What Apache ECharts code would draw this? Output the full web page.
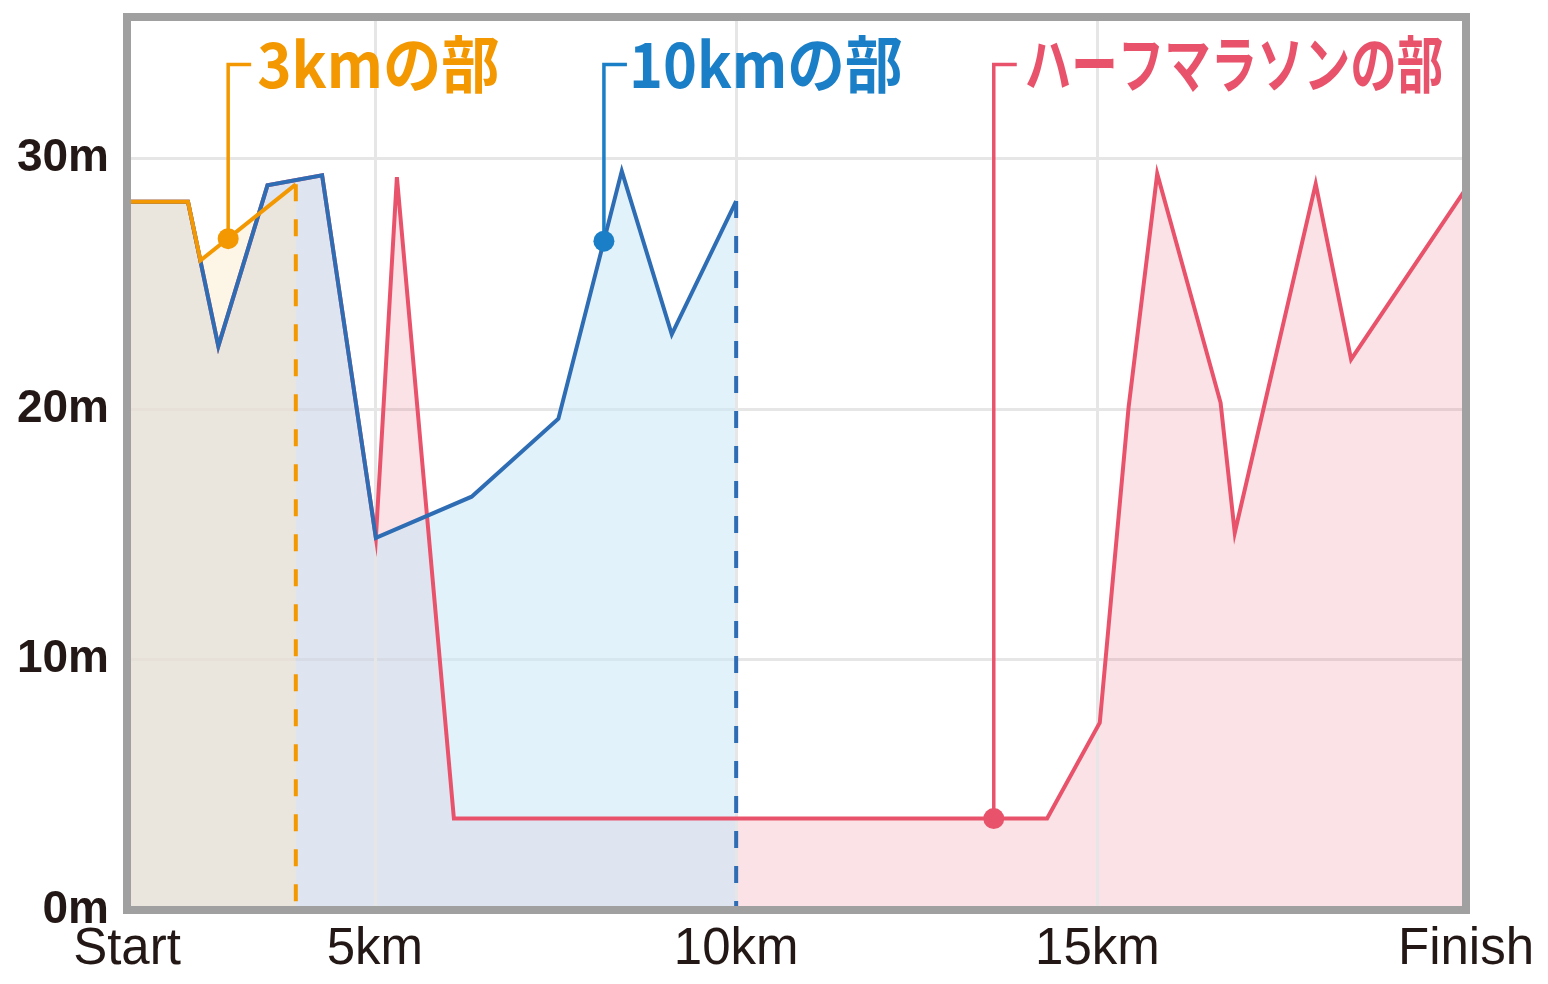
<!DOCTYPE html>
<html>
<head>
<meta charset="utf-8">
<script src="https://cdn.jsdelivr.net/npm/echarts@6/dist/echarts.min.js"></script>
<style>
html,body{margin:0;padding:0;background:#fff;}
#chart{width:1548px;height:984px;}
</style>
</head>
<body>
<div id="chart"></div>
<script>
// ---------- data ----------
const xMin = 1.57;            // "Start"
const xMax = 20.1;            // "Finish"
const yMin = 0;
const yMax = 35.65;
const xTickValues = [1.57, 5, 10, 15, 20.1];
const xTickLabels = ['Start', '5km', '10km', '15km', 'Finish'];
const xGridValues = [5, 10, 15];
const yTickValues = [0, 10, 20, 30];
const yTickLabels = ['0m', '10m', '20m', '30m'];

// [distance km, elevation m]
const course3k = [[1.57,28.27],[2.414,28.27],[2.586,25.93],[3.906,28.97]];
const course10k = [[1.57,28.27],[2.414,28.27],[2.834,22.51],[3.514,28.93],[4.27,29.33],[5.014,14.86],
  [6.339,16.5],[7.54,19.61],[8.417,29.5],[9.109,22.98],[10.0,28.3]];
const courseHalf = [[1.57,28.27],[2.414,28.27],[2.834,22.51],[3.514,28.93],[4.27,29.33],[5.014,14.86],
  [5.305,29.26],[6.094,3.65],[14.303,3.65],[15.032,7.48],[15.43,20.05],[15.827,29.39],[16.704,20.25],
  [16.9,15.06],[18.02,28.99],[18.51,21.98],[20.1,28.8]];

const sectionNames = ['3kmの部', '10kmの部', 'ハーフマラソンの部'];
const sectionMarkPoints = [[2.97, 26.8], [8.17, 26.7], [13.565, 3.65]];
const leaderTopElevation = 33.75;

// ---------- styles ----------
const ORANGE = '#f39800', BLUE_LINE = '#2e6db4', BLUE = '#1a7fc6', RED = '#e8536b';
const TEXT = '#231815';
const sectionColors = [ORANGE, BLUE, RED];
const sectionScaleX = [0.94, 0.93, 0.75];
const sectionTextGap = [6, 2, 8];

const GRID = {left:127, top:17, right:82, bottom:74};
const W = 1548, H = 984;

function dropLine(course){ const last = course[course.length-1]; return [[last[0], last[1]], [last[0], 0]]; }
function areaSeries(data, color, z){
  return { type:'line', z:z, data:data, symbol:'none', silent:true,
    lineStyle:{width:0, opacity:0}, areaStyle:{color:color, opacity:1} };
}
function lineSeries(data, color, z, dash){
  return { type:'line', z:z, data:data, symbol:'none', silent:true,
    lineStyle:{color:color, width:4, join:'miter', type: dash || 'solid'} };
}

const chart = echarts.init(document.getElementById('chart'), null, {renderer:'canvas'});
const option = {
  animation:false,
  backgroundColor:'#ffffff',
  grid:{left:GRID.left, top:GRID.top, right:GRID.right, bottom:GRID.bottom, containLabel:false, outerBoundsMode:'none', show:false},
  xAxis:{
    type:'value', min:xMin, max:xMax,
    axisLine:{show:false}, axisTick:{show:false}, splitLine:{show:false},
    axisLabel:{
      customValues:xTickValues,
      formatter:function(v){ for(let i=0;i<xTickValues.length;i++){ if(Math.abs(xTickValues[i]-v)<1e-6) return xTickLabels[i]; } return ''; },
      fontFamily:'Liberation Sans', fontSize:51, color:TEXT, margin:14
    }
  },
  yAxis:{
    type:'value', min:yMin, max:yMax, interval:10,
    axisLine:{show:false}, axisTick:{show:false},
    splitLine:{show:true, lineStyle:{color:'#e6e6e6', width:3}},
    axisLabel:{
      showMaxLabel:false,
      formatter:function(v){ const i = yTickValues.indexOf(v); return i>=0 ? yTickLabels[i] : ''; },
      fontFamily:'Liberation Sans', fontWeight:'bold', fontSize:46, color:TEXT, margin:18
    }
  },
  graphic:[{
    type:'rect', z:100, silent:true,
    shape:{x:GRID.left, y:GRID.top, width:W-GRID.left-GRID.right, height:H-GRID.top-GRID.bottom},
    style:{stroke:'#a0a0a0', lineWidth:8, fill:null}
  }],
  series:[
    { type:'line', z:1, data:[], silent:true,
      markLine:{symbol:'none', silent:true, label:{show:false},
        lineStyle:{color:'#e6e6e6', width:3, type:'solid'},
        data:xGridValues.map(v=>({xAxis:v}))} },
    areaSeries(courseHalf, 'rgba(232,84,108,0.17)', 2),
    areaSeries(course10k, 'rgba(200,231,248,0.55)', 3),
    areaSeries(course3k, 'rgba(250,232,197,0.43)', 4),
    lineSeries(courseHalf, RED, 6),
    lineSeries(course10k, BLUE_LINE, 7),
    lineSeries(course3k, ORANGE, 8),
    lineSeries(dropLine(course3k), ORANGE, 8, [17,18]),
    lineSeries(dropLine(course10k), BLUE_LINE, 8, [17,18]),
    { type:'custom', z:10, clip:false, silent:true,
      data:sectionMarkPoints,
      encode:{x:0, y:1},
      renderItem:function(params, api){
        const i = params.dataIndex;
        const p = api.coord([api.value(0), api.value(1)]);
        const t = api.coord([api.value(0), leaderTopElevation]);
        const hook = 23;
        const color = sectionColors[i];
        return {type:'group', children:[
          {type:'polyline', shape:{points:[[p[0],p[1]],[p[0],t[1]],[p[0]+hook,t[1]]]},
            style:{stroke:color, lineWidth:3.5, fill:null}},
          {type:'circle', shape:{cx:p[0], cy:p[1], r:10.5}, style:{fill:color}},
          {type:'text', x:p[0]+hook+sectionTextGap[i], y:t[1], scaleX:sectionScaleX[i],
            style:{text:sectionNames[i], x:0, y:0, fill:color, fontSize:62,
              fontFamily:'Noto Sans CJK JP', fontWeight:'bold', align:'left', verticalAlign:'middle'}}
        ]};
      }
    }
  ]
};
chart.setOption(option);
</script>
</body>
</html>
